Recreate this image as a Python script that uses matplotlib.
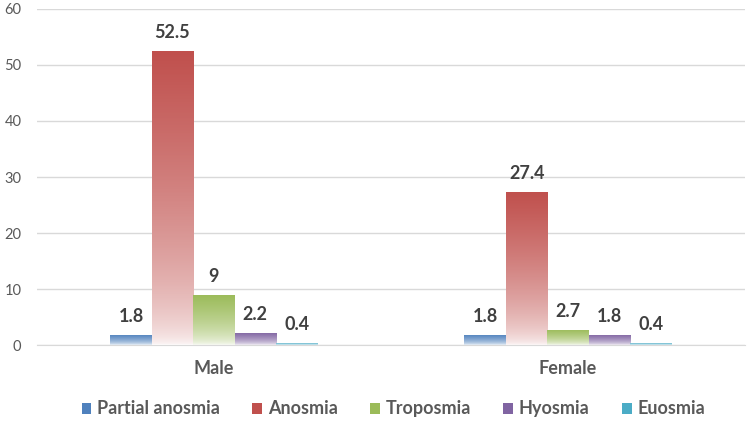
import numpy as np
import matplotlib.pyplot as plt
from matplotlib.colors import LinearSegmentedColormap
from matplotlib.patches import Patch

plt.rcParams['font.family'] = ['Lato', 'DejaVu Sans']

groups = ['Male', 'Female']
series = ['Partial anosmia', 'Anosmia', 'Troposmia', 'Hyosmia', 'Euosmia']
values = {
    'Partial anosmia': [1.8, 1.8],
    'Anosmia': [52.5, 27.4],
    'Troposmia': [9, 2.7],
    'Hyosmia': [2.2, 1.8],
    'Euosmia': [0.4, 0.4],
}
labels = {
    'Partial anosmia': ['1.8', '1.8'],
    'Anosmia': ['52.5', '27.4'],
    'Troposmia': ['9', '2.7'],
    'Hyosmia': ['2.2', '1.8'],
    'Euosmia': ['0.4', '0.4'],
}
colors = ['#4F81BD', '#C0504D', '#9BBB59', '#8064A2', '#4BACC6']

fig = plt.figure(figsize=(7.49, 4.26), dpi=100)
ax = fig.add_axes([0.049, 0.19, 0.946, 0.789])

x = np.arange(len(groups))
w = 0.117
grad = np.linspace(0, 1, 256).reshape(-1, 1) ** 0.55

for i, (s, c) in enumerate(zip(series, colors)):
    cmap = LinearSegmentedColormap.from_list(s, ['white', c])
    offs = (i - 2) * w
    bars = ax.bar(x + offs, values[s], w, color='none', edgecolor='none', zorder=2)
    for b, v, lab in zip(bars, values[s], labels[s]):
        x0 = b.get_x()
        im = ax.imshow(grad, extent=[x0, x0 + w, 0, v], origin='lower', cmap=cmap,
                       vmin=-0.03, vmax=1.0, aspect='auto', zorder=2)
        im.set_clip_path(b)
        ax.annotate(lab, (x0 + w / 2, v), xytext=(0, 7), textcoords='offset points',
                    ha='center', va='bottom', fontsize=13, fontweight='bold', color='#404040')

ax.set_xlim(-0.5, 1.5)
ax.set_ylim(0, 60)
ax.set_yticks(range(0, 61, 10))
ax.set_xticks(x)
ax.set_xticklabels(groups, fontsize=13, fontweight='bold', color='#595959')
ax.tick_params(axis='y', length=0, pad=11, labelsize=10.5, labelcolor='#595959')
ax.tick_params(axis='x', length=0, pad=11)
ax.grid(axis='y', color='#D9D9D9', linewidth=1, zorder=0)
ax.set_axisbelow(True)
for sp in ['top', 'right', 'left']:
    ax.spines[sp].set_visible(False)
ax.spines['bottom'].set_color('#D9D9D9')

handles = [Patch(facecolor=c, label=s) for s, c in zip(series, colors)]
fig.legend(handles=handles, loc='center', bbox_to_anchor=(0.525, 0.04), ncol=5, frameon=False,
           prop={'weight': 'bold', 'size': 13}, handlelength=0.55, handleheight=0.55,
           handletextpad=0.3, columnspacing=1.8, labelcolor='#595959')

fig.savefig('out.png', dpi=100)
